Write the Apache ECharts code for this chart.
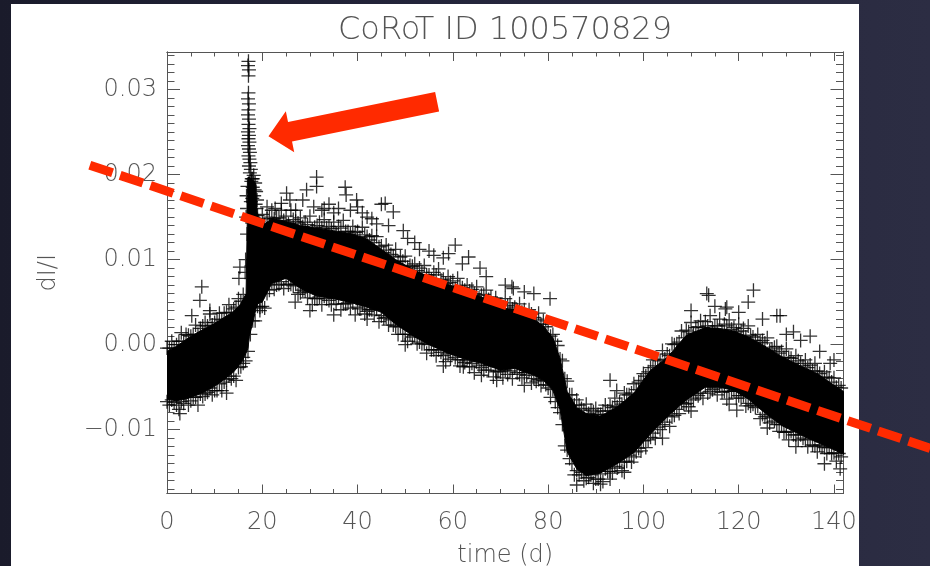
<!DOCTYPE html>
<html><head><meta charset="utf-8">
<script src="https://cdn.jsdelivr.net/npm/echarts@6/dist/echarts.min.js"></script>
<style>
html,body{margin:0;padding:0;width:930px;height:566px;overflow:hidden;background:linear-gradient(90deg,#1a1b2b 0%,#23243a 45%,#2c2d43 100%);}
#panel{position:absolute;left:11px;top:4px;width:848px;height:562px;background:#fff;}
#chart{position:absolute;left:0;top:0;width:930px;height:566px;}
</style></head>
<body><div id="panel"></div><div id="chart"></div>
<script>
// ---- tick labels ----
const xTickVals = [0, 20, 40, 60, 80, 100, 120, 140];
const xTickLabels = ['0', '20', '40', '60', '80', '100', '120', '140'];
const yTickVals = [-0.01, 0, 0.01, 0.02, 0.03];
const yTickLabels = ['\u22120.01', '0.00', '0.01', '0.02', '0.03'];

// ---- dense core of the light curve (envelope) ----
const bandT  = [0,2,4,6,8,10,12,14,15.5,16.6,17.0,17.3,18.6,19.0,20,22,25,28,31,35,39,42,45,48,52,55,59,62,66,70,73,77,79,81,82.5,84,86,88,91,94.5,98,101.5,105,109,113,116,119,122,125,129,133,136.5,139,142];
const bandHi = [-0.0008,-0.0002,0.0006,0.0013,0.0019,0.0025,0.0032,0.0039,0.0048,0.0060,0.0197,0.0197,0.0190,0.0140,0.0140,0.0148,0.0145,0.0140,0.0137,0.0134,0.0130,0.0124,0.0112,0.0100,0.0087,0.0080,0.0071,0.0064,0.0056,0.0043,0.0041,0.0030,0.0022,0.0008,-0.0016,-0.0055,-0.0074,-0.0081,-0.0084,-0.0073,-0.0057,-0.0030,-0.0015,0.0011,0.0020,0.0019,0.0016,0.0009,0.0000,-0.0014,-0.0025,-0.0034,-0.0044,-0.0055];
const bandLo = [-0.0064,-0.0066,-0.0064,-0.0060,-0.0055,-0.0049,-0.0041,-0.0032,-0.0022,-0.0010,-0.0004,0.0010,0.0040,0.0048,0.0050,0.0072,0.0078,0.0066,0.0058,0.0054,0.0049,0.0044,0.0038,0.0024,0.0009,0.0000,-0.0010,-0.0016,-0.0022,-0.0030,-0.0028,-0.0036,-0.0042,-0.0054,-0.0076,-0.0126,-0.0146,-0.0154,-0.0151,-0.0140,-0.0127,-0.0105,-0.0085,-0.0065,-0.0050,-0.0050,-0.0054,-0.0064,-0.0078,-0.0095,-0.0106,-0.0115,-0.0121,-0.0129];

// ---- individual points on the upper edge (outer row) ----
const upperT = [0,1,2,3,4,5,6,7,8,9,10,11,12,13,14,15,16,18,19,20,21,22,23,24,25,26,27,28,29,30,31,32,33,34,35,36,37,38,39,40,41,42,43,44,45,46,47,48,49,50,51,52,53,54,55,56,57,58,59,60,61,62,63,64,65,66,67,68,69,70,71,72,73,74,75,76,77,78,79,80,81,82,83,84,85,86,87,88,89,90,91,92,93,94,95,96,97,98,99,100,101,102,103,104,105,106,107,108,109,110,111,112,113,114,115,116,117,118,119,120,121,122,123,124,125,126,127,128,129,130,131,132,133,134,135,136,137,138,139,140,141];
const upperV = [-0.0004,0.0004,0.0000,0.0014,0.0012,0.0010,0.0023,0.0019,0.0026,0.0036,0.0026,0.0037,0.0037,0.0047,0.0042,0.0054,0.0059,0.0195,0.0147,0.0153,0.0148,0.0158,0.0149,0.0158,0.0151,0.0158,0.0145,0.0149,0.0144,0.0151,0.0138,0.0144,0.0147,0.0139,0.0144,0.0139,0.0146,0.0133,0.0139,0.0133,0.0138,0.0127,0.0128,0.0127,0.0116,0.0117,0.0106,0.0112,0.0103,0.0104,0.0093,0.0095,0.0090,0.0093,0.0082,0.0085,0.0089,0.0077,0.0080,0.0075,0.0078,0.0067,0.0070,0.0065,0.0068,0.0058,0.0064,0.0056,0.0055,0.0047,0.0054,0.0049,0.0044,0.0048,0.0041,0.0041,0.0032,0.0037,0.0028,0.0024,0.0012,-0.0001,-0.0019,-0.0043,-0.0059,-0.0065,-0.0075,-0.0070,-0.0077,-0.0075,-0.0082,-0.0071,-0.0072,-0.0063,-0.0067,-0.0057,-0.0059,-0.0046,-0.0044,-0.0034,-0.0032,-0.0018,-0.0018,-0.0007,-0.0011,0.0001,0.0001,0.0016,0.0017,0.0026,0.0020,0.0028,0.0027,0.0034,0.0022,0.0030,0.0024,0.0029,0.0020,0.0024,0.0019,0.0022,0.0009,0.0012,0.0005,0.0008,-0.0005,-0.0002,-0.0008,-0.0005,-0.0016,-0.0013,-0.0022,-0.0018,-0.0024,-0.0022,-0.0034,-0.0032,-0.0039,-0.0039,-0.0048];

// ---- points on the upper edge (inner row) ----
const upper2T = [0.5,1.5,2.5,3.5,4.5,5.5,6.5,7.5,8.5,9.5,10.5,11.5,12.5,13.5,14.5,15.5,19.5,20.5,21.5,22.5,23.5,24.5,25.5,26.5,27.5,28.5,29.5,30.5,31.5,32.5,33.5,34.5,35.5,36.5,37.5,38.5,39.5,40.5,41.5,42.5,43.5,44.5,45.5,46.5,47.5,48.5,49.5,50.5,51.5,52.5,53.5,54.5,55.5,56.5,57.5,58.5,59.5,60.5,61.5,62.5,63.5,64.5,65.5,66.5,67.5,68.5,69.5,70.5,71.5,72.5,73.5,74.5,75.5,76.5,77.5,78.5,79.5,80.5,81.5,82.5,83.5,84.5,85.5,86.5,87.5,88.5,89.5,90.5,91.5,92.5,93.5,94.5,95.5,96.5,97.5,98.5,99.5,100.5,101.5,102.5,103.5,104.5,105.5,106.5,107.5,108.5,109.5,110.5,111.5,112.5,113.5,114.5,115.5,116.5,117.5,118.5,119.5,120.5,121.5,122.5,123.5,124.5,125.5,126.5,127.5,128.5,129.5,130.5,131.5,132.5,133.5,134.5,135.5,136.5,137.5,138.5,139.5,140.5,141.5];
const upper2V = [-0.0004,-0.0004,0.0004,0.0004,0.0011,0.0012,0.0012,0.0022,0.0022,0.0023,0.0030,0.0029,0.0038,0.0038,0.0044,0.0051,0.0142,0.0141,0.0150,0.0148,0.0149,0.0146,0.0142,0.0147,0.0143,0.0139,0.0141,0.0136,0.0140,0.0137,0.0137,0.0136,0.0131,0.0137,0.0133,0.0130,0.0132,0.0126,0.0129,0.0123,0.0120,0.0115,0.0108,0.0111,0.0104,0.0098,0.0098,0.0091,0.0092,0.0087,0.0085,0.0082,0.0077,0.0082,0.0076,0.0072,0.0073,0.0066,0.0069,0.0064,0.0063,0.0060,0.0055,0.0059,0.0053,0.0048,0.0047,0.0041,0.0046,0.0042,0.0041,0.0038,0.0032,0.0036,0.0030,0.0024,0.0021,0.0010,0.0004,-0.0017,-0.0040,-0.0059,-0.0071,-0.0071,-0.0077,-0.0081,-0.0079,-0.0082,-0.0078,-0.0078,-0.0074,-0.0073,-0.0070,-0.0059,-0.0057,-0.0053,-0.0042,-0.0037,-0.0027,-0.0025,-0.0019,-0.0017,-0.0013,0.0000,0.0003,0.0008,0.0015,0.0013,0.0021,0.0020,0.0022,0.0019,0.0022,0.0016,0.0022,0.0018,0.0015,0.0016,0.0009,0.0011,0.0005,0.0003,0.0002,-0.0007,-0.0003,-0.0010,-0.0015,-0.0015,-0.0022,-0.0019,-0.0025,-0.0027,-0.0031,-0.0031,-0.0039,-0.0038,-0.0044,-0.0050,-0.0051];

// ---- individual points on the lower edge (outer row) ----
const lowerT = [0.5,1.5,2.5,3.5,4.5,5.5,6.5,7.5,8.5,9.5,10.5,11.5,12.5,13.5,14.5,15.5,16.5,17.5,18.5,19.5,20.5,21.5,22.5,23.5,24.5,25.5,26.5,27.5,28.5,29.5,30.5,31.5,32.5,33.5,34.5,35.5,36.5,37.5,38.5,39.5,40.5,41.5,42.5,43.5,44.5,45.5,46.5,47.5,48.5,49.5,50.5,51.5,52.5,53.5,54.5,55.5,56.5,57.5,58.5,59.5,60.5,61.5,62.5,63.5,64.5,65.5,66.5,67.5,68.5,69.5,70.5,71.5,72.5,73.5,74.5,75.5,76.5,77.5,78.5,79.5,80.5,81.5,82.5,83.5,84.5,85.5,86.5,87.5,88.5,89.5,90.5,91.5,92.5,93.5,94.5,95.5,96.5,97.5,98.5,99.5,100.5,101.5,102.5,103.5,104.5,105.5,106.5,107.5,108.5,109.5,110.5,111.5,112.5,113.5,114.5,115.5,116.5,117.5,118.5,119.5,120.5,121.5,122.5,123.5,124.5,125.5,126.5,127.5,128.5,129.5,130.5,131.5,132.5,133.5,134.5,135.5,136.5,137.5,138.5,139.5,140.5,141.5];
const lowerV = [-0.0071,-0.0068,-0.0076,-0.0069,-0.0071,-0.0062,-0.0071,-0.0061,-0.0056,-0.0059,-0.0054,-0.0054,-0.0041,-0.0040,-0.0042,-0.0026,-0.0019,0.0012,0.0028,0.0044,0.0043,0.0064,0.0065,0.0071,0.0066,0.0070,0.0069,0.0059,0.0064,0.0055,0.0047,0.0054,0.0047,0.0054,0.0047,0.0048,0.0041,0.0048,0.0043,0.0035,0.0042,0.0036,0.0041,0.0035,0.0027,0.0031,0.0023,0.0023,0.0012,0.0012,0.0004,0.0009,0.0001,0.0001,-0.0010,-0.0006,-0.0013,-0.0009,-0.0020,-0.0017,-0.0015,-0.0025,-0.0021,-0.0026,-0.0033,-0.0024,-0.0030,-0.0030,-0.0038,-0.0031,-0.0039,-0.0035,-0.0040,-0.0033,-0.0039,-0.0036,-0.0045,-0.0043,-0.0048,-0.0047,-0.0062,-0.0067,-0.0080,-0.0119,-0.0134,-0.0153,-0.0153,-0.0160,-0.0156,-0.0163,-0.0158,-0.0161,-0.0149,-0.0151,-0.0145,-0.0148,-0.0137,-0.0138,-0.0126,-0.0125,-0.0121,-0.0109,-0.0110,-0.0100,-0.0091,-0.0096,-0.0083,-0.0081,-0.0070,-0.0073,-0.0065,-0.0060,-0.0063,-0.0057,-0.0053,-0.0059,-0.0056,-0.0064,-0.0055,-0.0063,-0.0063,-0.0072,-0.0072,-0.0074,-0.0087,-0.0085,-0.0092,-0.0090,-0.0102,-0.0103,-0.0112,-0.0106,-0.0112,-0.0110,-0.0120,-0.0118,-0.0126,-0.0120,-0.0128,-0.0128,-0.0137,-0.0132];

// ---- points on the lower edge (inner row) ----
const lower2T = [0,1,2,3,4,5,6,7,8,9,10,11,12,13,14,15,16,17,18,19,20,21,22,23,24,25,26,27,28,29,30,31,32,33,34,35,36,37,38,39,40,41,42,43,44,45,46,47,48,49,50,51,52,53,54,55,56,57,58,59,60,61,62,63,64,65,66,67,68,69,70,71,72,73,74,75,76,77,78,79,80,81,82,83,84,85,86,87,88,89,90,91,92,93,94,95,96,97,98,99,100,101,102,103,104,105,106,107,108,109,110,111,112,113,114,115,116,117,118,119,120,121,122,123,124,125,126,127,128,129,130,131,132,133,134,135,136,137,138,139,140,141];
const lower2V = [-0.0067,-0.0065,-0.0071,-0.0067,-0.0062,-0.0066,-0.0062,-0.0058,-0.0058,-0.0051,-0.0054,-0.0046,-0.0044,-0.0037,-0.0037,-0.0027,-0.0015,-0.0008,0.0028,0.0045,0.0045,0.0060,0.0074,0.0070,0.0074,0.0078,0.0071,0.0071,0.0061,0.0063,0.0062,0.0054,0.0056,0.0057,0.0052,0.0055,0.0055,0.0048,0.0049,0.0049,0.0044,0.0047,0.0039,0.0041,0.0042,0.0034,0.0032,0.0029,0.0021,0.0021,0.0012,0.0012,0.0011,0.0003,0.0001,0.0000,-0.0006,-0.0006,-0.0013,-0.0011,-0.0010,-0.0018,-0.0018,-0.0018,-0.0022,-0.0020,-0.0027,-0.0025,-0.0024,-0.0032,-0.0032,-0.0030,-0.0031,-0.0027,-0.0035,-0.0033,-0.0032,-0.0040,-0.0041,-0.0042,-0.0051,-0.0053,-0.0074,-0.0094,-0.0124,-0.0140,-0.0148,-0.0150,-0.0157,-0.0153,-0.0158,-0.0152,-0.0146,-0.0149,-0.0143,-0.0138,-0.0138,-0.0130,-0.0132,-0.0122,-0.0113,-0.0112,-0.0104,-0.0097,-0.0094,-0.0084,-0.0085,-0.0076,-0.0068,-0.0069,-0.0063,-0.0058,-0.0057,-0.0049,-0.0055,-0.0051,-0.0048,-0.0055,-0.0055,-0.0054,-0.0060,-0.0060,-0.0069,-0.0070,-0.0072,-0.0082,-0.0084,-0.0086,-0.0094,-0.0094,-0.0103,-0.0102,-0.0106,-0.0106,-0.0112,-0.0111,-0.0119,-0.0118,-0.0121,-0.0121,-0.0127,-0.0128];

// ---- flare spike near day 17 ----
const spikeT = [17.1,17.0,17.2,17.1,17.1,17.0,17.2,17.1,17.0,17.2,17.1,17.3,17.0,17.2,17.1,17.3,17.0,17.2,17.4,17.1,17.3,17.5,17.2,17.6,17.4,18.2,17.8,18.5,16.9,18.7,18.9,16.8,19.0,18.0,18.3,17.6,18.8,18.1,17.7,18.4,17.9,18.6,19.2,16.7,16.6,16.8,16.5,16.4];
const spikeV = [0.0333,0.0328,0.0323,0.0316,0.0296,0.0289,0.0283,0.0276,0.0270,0.0265,0.0259,0.0254,0.0250,0.0246,0.0242,0.0238,0.0234,0.0230,0.0226,0.0222,0.0218,0.0214,0.0210,0.0206,0.0202,0.0199,0.0195,0.0190,0.0186,0.0180,0.0170,0.0160,0.0152,0.0185,0.0175,0.0168,0.0160,0.0150,0.0192,0.0182,0.0172,0.0165,0.0145,0.0175,0.0150,0.0130,0.0100,0.0085];

// ---- scattered outliers ----
const outT = [5.2,6.9,7.3,9.0,15.3,15.1,12.5,2.7,16.0,31.4,31.4,29.3,30.8,25.1,25.8,37.4,37.6,39.8,40.0,22.7,45.0,26.9,19.5,45.8,47.5,49.6,60.5,59.1,63.3,65.7,72.7,80.4,69.2,62.2,72.4,77.0,113.7,123.1,122.0,128.0,131.5,135.0,139.2,117.5,93.0,94.4,91.0,141.3,113.3,117.2,128.7,119.6,93.0,33.0,35.0,42.0,53.0,56.0,21.0,24.0,27.0,28.5,32.5,34.0,36.0,38.5,41.0,43.0,44.0,46.5,50.5,52.0,55.0,58.0,62.0,67.0,71.0,75.0,110.0,115.0,120.0,125.0,130.0,133.0,137.0,140.0,30.0,35.0,42.0,50.0,58.0,66.0,75.0,86.0,96.0,104.0,110.0,118.0,126.0,132.0,138.0];
const outV = [0.0034,0.0052,0.0068,0.0040,0.0091,0.0078,-0.0057,-0.0081,-0.0022,0.0197,0.0186,0.0182,0.0162,0.0178,0.0170,0.0185,0.0176,0.0170,0.0162,0.0160,0.0165,0.0050,0.0040,0.0166,0.0156,0.0134,0.0117,0.0107,0.0103,0.0090,0.0066,0.0054,-0.0042,-0.0026,0.0068,0.0060,0.0058,0.0064,0.0050,0.0034,0.0015,0.0010,-0.0022,0.0044,-0.0042,-0.0054,-0.0164,-0.0146,0.0060,0.0042,0.0034,-0.0077,-0.0158,0.0160,0.0155,0.0150,0.0112,0.0105,0.0162,0.0166,0.0158,0.0170,0.0158,0.0165,0.0160,0.0158,0.0155,0.0148,0.0142,0.0140,0.0125,0.0120,0.0110,0.0102,0.0095,0.0080,0.0070,0.0062,0.0040,0.0045,0.0038,0.0030,0.0012,0.0005,-0.0008,-0.0018,0.0040,0.0035,0.0030,0.0000,-0.0025,-0.0036,-0.0048,-0.0165,-0.0150,-0.0110,-0.0078,-0.0070,-0.0098,-0.0120,-0.0140];

// ---- annotations (data coordinates) ----
const trendT = [-16.2, 160.2];
const trendV = [0.0211, -0.0122];
const arrowTail = [56.7, 0.02855];
const arrowTip = [21.3, 0.02451];

// ---- build ----
function zip(a, b) { return a.map((v, i) => [v, b[i]]); }
const pts = [].concat(zip(upperT, upperV), zip(upper2T, upper2V), zip(lowerT, lowerV), zip(lower2T, lower2V), zip(spikeT, spikeV), zip(outT, outV));

const minorX = []; for (let k = 0; k <= 140; k += 5) if (k % 20) minorX.push(k);
const minorY = []; for (let k = -17; k <= 34; k++) if (k % 10) minorY.push(k / 1000);

const axisColor = '#555';
const textColor = '#555';
const FONT = '"DejaVu Sans", sans-serif';

function xAx(pos, ticks, len, labels) {
  return {
    type: 'value', position: pos, min: 0, max: 142, gridIndex: 0,
    axisLine: { show: true, onZero: false, lineStyle: { color: axisColor, width: 1 } },
    axisTick: { show: true, inside: true, length: len, customValues: ticks, lineStyle: { color: axisColor, width: 1 } },
    axisLabel: labels ? { show: true, customValues: xTickVals, margin: 17, fontSize: 24, color: textColor, fontFamily: FONT, fontWeight: 200,
      formatter: v => { const i = xTickVals.findIndex(t => Math.abs(t - v) < 1e-6); return i >= 0 ? xTickLabels[i] : ''; } } : { show: false },
    splitLine: { show: false },
    name: labels ? 'time (d)' : '', nameLocation: 'middle', nameGap: 50,
    nameTextStyle: { fontSize: 24, color: textColor, fontFamily: FONT, fontWeight: 200 }
  };
}
function yAx(pos, ticks, len, labels) {
  return {
    type: 'value', position: pos, min: -0.0175, max: 0.0344, gridIndex: 0,
    axisLine: { show: true, onZero: false, lineStyle: { color: axisColor, width: 1 } },
    axisTick: { show: true, inside: true, length: len, customValues: ticks, lineStyle: { color: axisColor, width: 1 } },
    axisLabel: labels ? { show: true, customValues: yTickVals, margin: 10, fontSize: 24, color: textColor, fontFamily: FONT, fontWeight: 200,
      formatter: v => { const i = yTickVals.findIndex(t => Math.abs(t - v) < 1e-7); return i >= 0 ? yTickLabels[i] : ''; } } : { show: false },
    splitLine: { show: false },
    name: labels ? 'dI/I' : '', nameLocation: 'middle', nameGap: 106, nameRotate: 90,
    nameTextStyle: { fontSize: 24, color: textColor, fontFamily: FONT, fontWeight: 200 }
  };
}

const chart = echarts.init(document.getElementById('chart'), null, { renderer: 'canvas' });
chart.setOption({
  backgroundColor: 'transparent',
  animation: false,
  title: { text: 'CoRoT ID 100570829', left: 500, top: 10, textAlign: 'center',
    textStyle: { fontSize: 32, color: textColor, fontFamily: FONT, fontWeight: 200 } },
  grid: { left: 167, top: 52, width: 676.5, height: 441.5, containLabel: false, outerBoundsMode: 'none' },
  xAxis: [
    xAx('bottom', xTickVals, 9, true),
    xAx('bottom', minorX, 4.5, false),
    xAx('top', xTickVals, 9, false),
    xAx('top', minorX, 4.5, false)
  ],
  yAxis: [
    yAx('left', yTickVals, 13, true),
    yAx('left', minorY, 7.5, false),
    yAx('right', yTickVals, 13, false),
    yAx('right', minorY, 7.5, false)
  ],
  series: [
    {
      type: 'custom', name: 'core', xAxisIndex: 0, yAxisIndex: 0, clip: true, silent: true, z: 2,
      data: [[0, 0]],
      renderItem: (params, api) => {
        const up = bandT.map((t, i) => api.coord([t, bandHi[i]]));
        const dn = bandT.map((t, i) => api.coord([t, bandLo[i]])).reverse();
        return { type: 'polygon', shape: { points: up.concat(dn) }, style: { fill: '#000', stroke: '#000', lineWidth: 1 } };
      }
    },
    {
      type: 'scatter', name: 'dI/I', xAxisIndex: 0, yAxisIndex: 0, z: 3, clip: true, silent: true,
      symbol: 'path://M0 7L14 7M7 0L7 14', symbolSize: 14,
      itemStyle: { color: 'rgba(0,0,0,0)', borderColor: '#000', borderWidth: 1.3 },
      data: pts
    },
    {
      type: 'custom', name: 'trend', xAxisIndex: 0, yAxisIndex: 0, clip: false, silent: true, z: 5,
      data: [[0, 0]],
      renderItem: (params, api) => {
        const a = api.coord([trendT[0], trendV[0]]), b = api.coord([trendT[1], trendV[1]]);
        return { type: 'line', shape: { x1: a[0], y1: a[1], x2: b[0], y2: b[1] },
          style: { stroke: '#ff2a00', lineWidth: 9, lineDash: [24, 8], lineCap: 'butt', fill: null } };
      }
    },
    {
      type: 'custom', name: 'arrow', xAxisIndex: 0, yAxisIndex: 0, clip: false, silent: true, z: 6,
      data: [[0, 0]],
      renderItem: (params, api) => {
        const a = api.coord(arrowTail), b = api.coord(arrowTip);
        const dx = b[0] - a[0], dy = b[1] - a[1], L = Math.hypot(dx, dy);
        const ux = dx / L, uy = dy / L, nx = -uy, ny = ux;
        const hl = 22, hw = 21, sw = 10;
        const bx = b[0] - ux * hl, by = b[1] - uy * hl;
        return { type: 'polygon', shape: { points: [
          [a[0] + nx * sw, a[1] + ny * sw], [bx + nx * sw, by + ny * sw], [bx + nx * hw, by + ny * hw],
          [b[0], b[1]],
          [bx - nx * hw, by - ny * hw], [bx - nx * sw, by - ny * sw], [a[0] - nx * sw, a[1] - ny * sw]
        ] }, style: { fill: '#ff2a00' } };
      }
    }
  ]
});
</script>
</body></html>
